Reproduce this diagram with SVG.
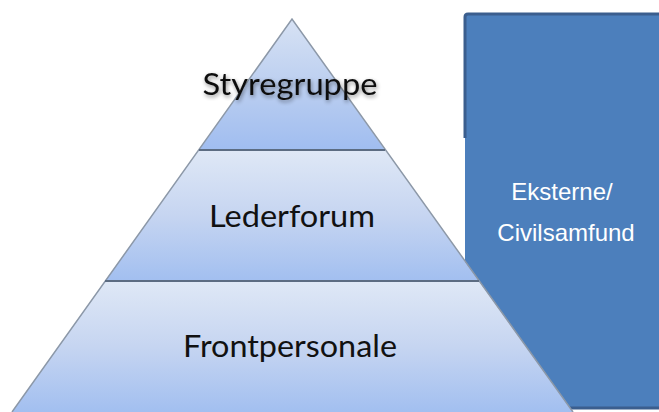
<svg xmlns="http://www.w3.org/2000/svg" width="659" height="412" viewBox="0 0 659 412">
<defs>
<linearGradient id="band" x1="0" y1="0" x2="0" y2="1">
<stop offset="0" stop-color="#dfe8f6"/>
<stop offset="0.5" stop-color="#c6d5f1"/>
<stop offset="1" stop-color="#a2bff0"/>
</linearGradient>
<linearGradient id="bandTop" x1="0" y1="0" x2="0" y2="1">
<stop offset="0" stop-color="#d7e2f4"/>
<stop offset="0.5" stop-color="#bccff0"/>
<stop offset="1" stop-color="#a0bdf0"/>
</linearGradient>
<filter id="glow" x="-20%" y="-50%" width="140%" height="200%">
<feGaussianBlur in="SourceAlpha" stdDeviation="2.2"/>
<feOffset dx="1" dy="2" result="b"/>
<feComponentTransfer><feFuncA type="linear" slope="0.45"/></feComponentTransfer>
<feMerge><feMergeNode/><feMergeNode in="SourceGraphic"/></feMerge>
</filter>
</defs>
<style>
.lbl{font-family:Lato,"Open Sans","Liberation Sans",sans-serif;font-size:30px;fill:#111;text-anchor:middle}
.ext{font-family:"Liberation Sans",Arial,sans-serif;font-size:24px;fill:#ffffff;text-anchor:middle}
.sep{stroke:#5c6c82;stroke-width:2}
.edge{fill:none;stroke:#8c98a8;stroke-width:1.5}
</style>
<g id="eksterne">
<rect x="465" y="14" width="200" height="395" fill="#4c7fbc"/>
<path d="M465,138 L465,17 Q465,14 468,14 L659,14" fill="none" stroke="#3b5e8e" stroke-width="3"/>
<line x1="570" y1="408" x2="659" y2="408" stroke="#3b5e8e" stroke-width="3"/>
<text class="ext" x="562" y="200">Eksterne/</text>
<text class="ext" x="566" y="241">Civilsamfund</text>
</g>
<g id="frontpersonale">
<polygon points="105,281 479,281 573,412 12,412" fill="url(#band)"/>
<text class="lbl" x="290" y="357" textLength="214" lengthAdjust="spacingAndGlyphs">Frontpersonale</text>
</g>
<g id="lederforum">
<polygon points="199,150 385,150 479,281 105,281" fill="url(#band)"/>
<text class="lbl" x="292" y="227" textLength="166" lengthAdjust="spacingAndGlyphs">Lederforum</text>
</g>
<g id="styregruppe">
<polygon points="292,19 385,150 199,150" fill="url(#bandTop)"/>
</g>
<g id="connectors">
<polyline class="edge" points="12,412 292,19 573,412"/>
<line class="sep" x1="199" y1="150" x2="385" y2="150"/>
<line class="sep" x1="105" y1="281" x2="479" y2="281"/>
</g>
<text class="lbl" x="290" y="95" textLength="175" lengthAdjust="spacingAndGlyphs" filter="url(#glow)">Styregruppe</text>
</svg>
